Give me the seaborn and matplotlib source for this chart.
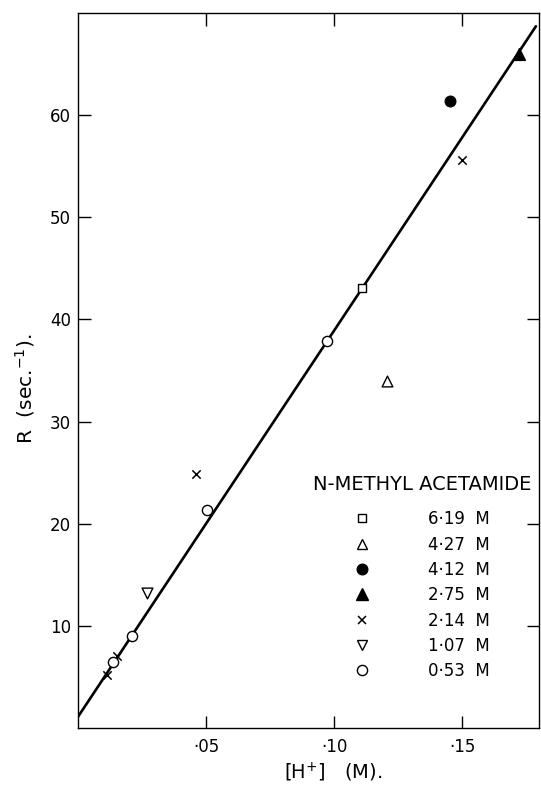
import pandas as pd
import seaborn as sns
import matplotlib.pyplot as plt
from matplotlib.lines import Line2D

# Rate R vs [H+] for N-methyl acetamide runs
h_619 = [0.1107]
r_619 = [43.1]
h_427 = [0.1207]
r_427 = [34.0]
h_412 = [0.1452]
r_412 = [61.4]
h_275 = [0.1720]
r_275 = [66.0]
h_214 = [0.0112, 0.0151, 0.0460, 0.1500]
r_214 = [5.2, 7.0, 24.9, 55.6]
h_107 = [0.0270]
r_107 = [13.2]
h_053 = [0.0135, 0.0209, 0.0504, 0.0973]
r_053 = [6.5, 9.0, 21.3, 37.9]

# straight line drawn through the points
fit_h = [0.0, 0.1788]
fit_r = [1.1, 68.7]

conc_labels = ['6·19  M', '4·27  M', '4·12  M', '2·75  M', '2·14  M', '1·07  M', '0·53  M']
x_ticks = [0.05, 0.10, 0.15]
x_tick_labels = ['·05', '·10', '·15']
y_ticks = [10, 20, 30, 40, 50, 60]

series = [
    (h_619, r_619, 's', 'white', 34),
    (h_427, r_427, '^', 'white', 60),
    (h_412, r_412, 'o', 'black', 58),
    (h_275, r_275, '^', 'black', 72),
    (h_214, r_214, 'x', None, 36),
    (h_107, r_107, 'v', 'white', 60),
    (h_053, r_053, 'o', 'white', 54),
]

sns.set_style('ticks')
plt.rcParams['font.family'] = ['DejaVu Sans']
plt.rcParams['text.color'] = 'black'
plt.rcParams['axes.labelcolor'] = 'black'

fig = plt.figure(figsize=(5.41, 7.86), dpi=100)
ax = fig.add_axes([0.1442, 0.0738, 0.8521, 0.9097])

sns.lineplot(x=fit_h, y=fit_r, color='black', linewidth=1.9, estimator=None, ax=ax)

handles = []
for (h, r, m, fc, s), lab in zip(series, conc_labels):
    df = pd.DataFrame({'H': h, 'R': r})
    if fc is None:
        sns.scatterplot(data=df, x='H', y='R', marker=m, s=s, color='black',
                        linewidth=1.1, ax=ax, zorder=3)
        handles.append(Line2D([], [], ls='none', marker=m, color='black',
                              markersize=s ** 0.5, markeredgewidth=1.1))
    else:
        sns.scatterplot(data=df, x='H', y='R', marker=m, s=s, color='black',
                        facecolor=fc, edgecolor='black', linewidth=1.0, ax=ax, zorder=3)
        handles.append(Line2D([], [], ls='none', marker=m, markerfacecolor=fc,
                              markeredgecolor='black', markersize=s ** 0.5,
                              markeredgewidth=1.0))

ax.set_xlim(0, 0.18)
ax.set_ylim(0, 70)
ax.set_xticks(x_ticks)
ax.set_xticklabels(x_tick_labels)
ax.set_yticks(y_ticks)
ax.tick_params(direction='in', top=True, right=True, length=9, width=1,
               labelsize=12, color='black', labelcolor='black')
ax.tick_params(axis='x', pad=7)
ax.tick_params(axis='y', pad=5)
for sp in ax.spines.values():
    sp.set_visible(True)
    sp.set_linewidth(1.0)
    sp.set_color('black')

ax.set_xlabel(r'[H$^{+}$]   (M).', fontsize=14, va='top')
ax.xaxis.set_label_coords(0.554, -0.046)
ax.set_ylabel(r'R  (sec.$^{-1}$).', fontsize=14.5)
ax.yaxis.set_label_coords(-0.088, 0.475)

ax.text(0.51, 0.34, 'N-METHYL ACETAMIDE', transform=ax.transAxes,
        fontsize=14, ha='left', va='center')
ax.legend(handles, conc_labels, loc='upper left', bbox_to_anchor=(0.5987, 0.3045),
          frameon=False, handlelength=1.0, handletextpad=3.45, labelspacing=0.44,
          borderpad=0, borderaxespad=0, fontsize=12, labelcolor='black')

fig.savefig('out.png', dpi=100)
